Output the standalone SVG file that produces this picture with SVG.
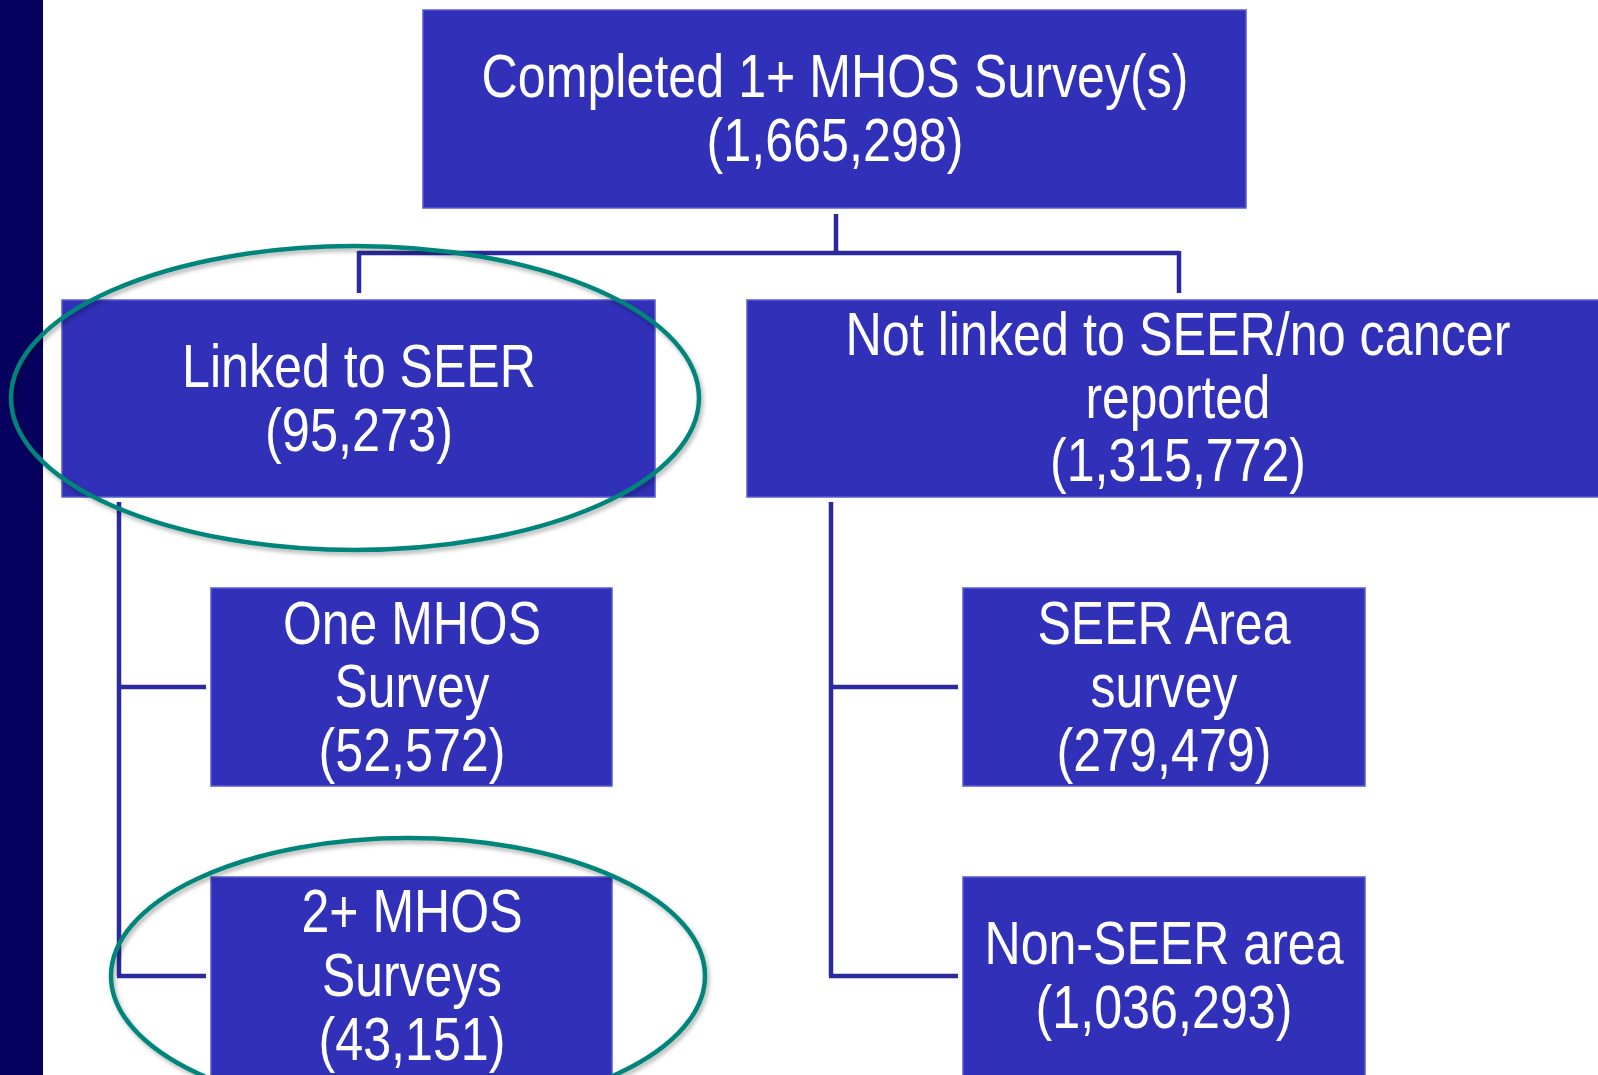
<svg xmlns="http://www.w3.org/2000/svg" width="1598" height="1075" viewBox="0 0 1598 1075">
<defs>
<style>
.box{fill:#3030b8;stroke:#5a5ad2;stroke-width:1.5}
.t{font-family:"Liberation Sans",Arial,sans-serif;font-size:61px;fill:#ffffff;text-anchor:middle}
.c{fill:none;stroke:#2a2a9e;stroke-width:4.5}
.oval{fill:none;stroke:#00857a;stroke-width:4.5}
</style>
<filter id="sh" x="-10%" y="-10%" width="120%" height="120%">
<feDropShadow dx="2" dy="3" stdDeviation="2" flood-color="#000" flood-opacity="0.3"/>
</filter>
</defs>
<rect width="1598" height="1075" fill="#ffffff"/>
<rect id="sidebar" x="0" y="0" width="43" height="1075" fill="#06005f"/>
<g id="connectors">
<path class="c" d="M836 214V253M359 253H1179M359 251V293M1179 251V293"/>
<path class="c" d="M119 502V976M117 687H206M117 976H206"/>
<path class="c" d="M831 502V976M829 687H958M829 976H958"/>
</g>
<g id="n-completed">
<rect class="box" x="423" y="10" width="823" height="198"/>
<text class="t" x="835" y="97" textLength="707" lengthAdjust="spacingAndGlyphs">Completed 1+ MHOS Survey(s)</text>
<text class="t" x="835" y="161" textLength="257" lengthAdjust="spacingAndGlyphs">(1,665,298)</text>
</g>
<g id="n-linked">
<rect class="box" x="62" y="300" width="593" height="197"/>
<text class="t" x="359" y="387" textLength="354" lengthAdjust="spacingAndGlyphs">Linked to SEER</text>
<text class="t" x="359" y="451" textLength="188" lengthAdjust="spacingAndGlyphs">(95,273)</text>
</g>
<g id="n-notlinked">
<rect class="box" x="747" y="300" width="860" height="197"/>
<text class="t" x="1178" y="355" textLength="665" lengthAdjust="spacingAndGlyphs">Not linked to SEER/no cancer</text>
<text class="t" x="1178" y="418" textLength="185" lengthAdjust="spacingAndGlyphs">reported</text>
<text class="t" x="1178" y="481" textLength="256" lengthAdjust="spacingAndGlyphs">(1,315,772)</text>
</g>
<g id="n-one">
<rect class="box" x="211" y="588" width="401" height="198"/>
<text class="t" x="412" y="644" textLength="258" lengthAdjust="spacingAndGlyphs">One MHOS</text>
<text class="t" x="412" y="707" textLength="155" lengthAdjust="spacingAndGlyphs">Survey</text>
<text class="t" x="412" y="771" textLength="187" lengthAdjust="spacingAndGlyphs">(52,572)</text>
</g>
<g id="n-two">
<rect class="box" x="211" y="877" width="401" height="210"/>
<text class="t" x="412" y="932" textLength="221" lengthAdjust="spacingAndGlyphs">2+ MHOS</text>
<text class="t" x="412" y="996" textLength="180" lengthAdjust="spacingAndGlyphs">Surveys</text>
<text class="t" x="412" y="1060" textLength="187" lengthAdjust="spacingAndGlyphs">(43,151)</text>
</g>
<g id="n-seerarea">
<rect class="box" x="963" y="588" width="402" height="198"/>
<text class="t" x="1164" y="644" textLength="253" lengthAdjust="spacingAndGlyphs">SEER Area</text>
<text class="t" x="1164" y="707" textLength="147" lengthAdjust="spacingAndGlyphs">survey</text>
<text class="t" x="1164" y="771" textLength="215" lengthAdjust="spacingAndGlyphs">(279,479)</text>
</g>
<g id="n-nonseer">
<rect class="box" x="963" y="877" width="402" height="210"/>
<text class="t" x="1164" y="964" textLength="359" lengthAdjust="spacingAndGlyphs">Non-SEER area</text>
<text class="t" x="1164" y="1028" textLength="257" lengthAdjust="spacingAndGlyphs">(1,036,293)</text>
</g>
<g id="highlights" filter="url(#sh)">
<ellipse class="oval" cx="355" cy="398" rx="344" ry="152"/>
<ellipse class="oval" cx="408" cy="976" rx="297" ry="138"/>
</g>
</svg>
